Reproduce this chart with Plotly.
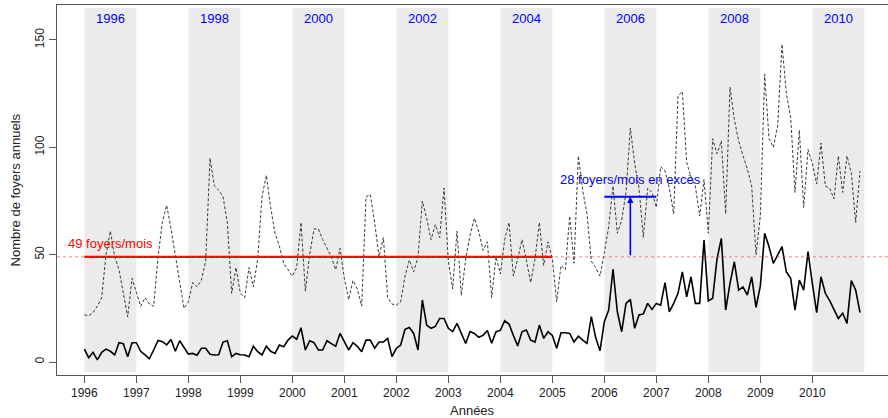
import plotly.graph_objects as go

# ---- data (monthly, Jan 1996 .. Dec 2010) ----
start_year = 1996
dashed_vals = [
    22, 21.5, 23, 26, 30, 50, 61, 49, 43, 32, 21, 39,          # 1996
    32, 26, 30, 27, 26, 49, 65, 73, 62, 50, 38, 25,            # 1997
    28, 37, 35, 38, 47, 95, 82, 80, 77, 65, 32, 44,            # 1998
    32, 30, 44, 35, 48, 77, 87, 72, 60, 54, 46, 43,            # 1999
    40, 44, 65, 33, 50, 62, 62, 57, 53, 49, 43, 53,            # 2000
    39, 29, 38, 34, 26, 77, 78, 65, 49, 58, 30, 27,            # 2001
    26.5, 28, 40, 47.5, 42, 49, 75, 67, 57, 64, 58, 81,        # 2002
    47, 34, 61, 31, 48, 59, 67, 61, 52, 56, 30, 49,            # 2003
    41, 57, 65, 40, 48, 57, 47.5, 37, 48, 65, 45, 56,          # 2004
    48, 28, 45, 43, 68, 46, 96, 80, 69, 47, 44, 40,            # 2005
    51, 63, 82, 60, 66, 79, 109, 92.5, 81, 58, 81, 79,         # 2006
    72, 91, 89, 81, 69, 124, 126, 93, 86, 82, 68, 85,          # 2007
    60, 104, 97, 103, 69, 128, 113, 103, 96, 90, 82, 50,       # 2008
    68, 134, 104, 100, 110, 148, 125, 114, 79, 108, 72, 99,    # 2009
    92.5, 83, 102, 82, 81, 76, 96, 79, 96, 88, 65, 89,         # 2010
]
solid_vals = [
    6, 2, 4.5, 1, 4.5, 6, 5, 3.3, 9, 8.5, 2.5, 9,              # 1996
    9, 5, 3.3, 1.5, 5.6, 10, 9.5, 8, 10.5, 5, 9.9, 7,          # 1997
    3.7, 4, 3.2, 6.4, 6.4, 3.6, 3.3, 3.4, 9.3, 9.9, 2.5, 4,    # 1998
    3.4, 3.3, 2.5, 7.4, 4.8, 3.3, 7.4, 5, 4, 7.9, 7.1, 10.2,   # 1999
    12.1, 10.6, 16, 5.6, 9.9, 9, 5.6, 5.6, 9.9, 8.6, 7.3, 13.3,  # 2000
    9.3, 5.6, 9, 7.3, 4.8, 10.2, 10.2, 6.4, 9.3, 9.3, 11, 2.5,   # 2001
    6.4, 7.9, 15.2, 16.1, 13.3, 5.6, 28.9, 17.2, 15.7, 16.6, 20.3, 20.3,  # 2002
    15.7, 14.2, 18, 13.3, 8.6, 14.2, 13.3, 11.5, 12.4, 14.7, 8.7, 14.1,   # 2003
    14.7, 19.2, 17.7, 12.4, 7.5, 14.1, 14.9, 10.2, 9.3, 17.2, 11, 14.1,   # 2004
    12.4, 6.4, 13.6, 13.6, 13.3, 9.3, 12, 10.2, 8.7, 21.1, 11.4, 5.3,     # 2005
    18.8, 24.2, 43.2, 23.4, 14.1, 27.3, 29.2, 15.7, 21.9, 22.4, 27.3, 24.5,  # 2006
    27.3, 26.5, 37, 23.4, 27.3, 32, 42, 30.4, 39.7, 27.3, 27.3, 56.8,     # 2007
    28.5, 29.7, 48, 57.6, 24.2, 36.6, 46.7, 33.5, 35, 31.2, 39.7, 25.5,   # 2008
    35.5, 60, 53.7, 46, 49.8, 53.7, 42, 39, 24.2, 38.2, 33.5, 51.4,       # 2009
    36.6, 23, 39.7, 32, 28.6, 24.2, 20.3, 22.7, 18, 37.9, 33.5, 23,       # 2010
]
tick_years = list(range(1996, 2011))
band_years = [1996, 1998, 2000, 2002, 2004, 2006, 2008, 2010]
mean_before = 49
excess_level = 77
mean_label = "49 foyers/mois"
excess_label = "28 foyers/mois en excès"

x_months = [start_year + i / 12 for i in range(len(dashed_vals))]

FONT = "Liberation Sans, Arial, sans-serif"

fig = go.Figure()

# dashed series
fig.add_trace(go.Scatter(x=x_months, y=dashed_vals, mode="lines",
                         line=dict(color="#3a3a3a", width=1, dash="3px,2px"),
                         hoverinfo="skip", showlegend=False))
# solid series
fig.add_trace(go.Scatter(x=x_months, y=solid_vals, mode="lines",
                         line=dict(color="black", width=1.6),
                         hoverinfo="skip", showlegend=False))
# thick red mean line 1996-2005
fig.add_trace(go.Scatter(x=[1996, 2005], y=[mean_before, mean_before], mode="lines",
                         line=dict(color="#ff0000", width=2.2),
                         hoverinfo="skip", showlegend=False))
# blue horizontal line 2006-2007
fig.add_trace(go.Scatter(x=[2006, 2007], y=[excess_level, excess_level], mode="lines",
                         line=dict(color="#0000ff", width=2),
                         hoverinfo="skip", showlegend=False))

shapes = []
for y0 in band_years:
    shapes.append(dict(type="rect", xref="x", yref="y", x0=y0, x1=y0 + 1,
                       y0=-4.6, y1=164.9, fillcolor="#ebebeb",
                       line=dict(width=0), layer="below"))
# red dashed reference line across the whole plot
shapes.append(dict(type="line", xref="paper", yref="y", x0=0, x1=1,
                   y0=mean_before, y1=mean_before,
                   line=dict(color="rgba(230,60,60,0.75)", width=0.8, dash="3px,3px")))

annotations = []
for y0 in band_years:
    annotations.append(dict(x=y0 + 0.5, y=160.2, xref="x", yref="y", text=str(y0),
                            showarrow=False, font=dict(color="#0000ff", size=13, family=FONT)))
annotations.append(dict(x=1995.647, y=55.4, xref="x", yref="y", text=mean_label,
                        showarrow=False, xanchor="left", yanchor="middle",
                        font=dict(color="#ff0000", size=13, family=FONT)))
annotations.append(dict(x=2005.109, y=84.8, xref="x", yref="y", text=excess_label,
                        showarrow=False, xanchor="left", yanchor="middle",
                        font=dict(color="#0000ff", size=13, family=FONT)))
# vertical blue arrow
annotations.append(dict(x=2006.5, y=excess_level, ax=2006.5, ay=mean_before,
                        xref="x", yref="y", axref="x", ayref="y", text="",
                        showarrow=True, arrowhead=2, arrowsize=0.8, arrowwidth=1.6,
                        arrowcolor="#0000ff"))
# axis titles
annotations.append(dict(x=0.5, y=-0.095, xref="paper", yref="paper", text="Années",
                        showarrow=False, yanchor="middle",
                        font=dict(size=13, color="#222", family=FONT)))
annotations.append(dict(x=-0.05, y=0.5, xref="paper", yref="paper",
                        text="Nombre de foyers annuels", textangle=-90,
                        showarrow=False, xanchor="center",
                        font=dict(size=13, color="#222", family=FONT)))

fig.update_layout(
    width=888, height=418,
    margin=dict(l=57, r=0, t=5, b=43),
    paper_bgcolor="white", plot_bgcolor="white",
    shapes=shapes, annotations=annotations,
    font=dict(family=FONT, size=12, color="#222"),
    xaxis=dict(range=[1995.474, 2011.455], tickvals=tick_years,
               ticktext=[str(y) for y in tick_years],
               showgrid=False, zeroline=False, showline=True, mirror=True,
               linecolor="#555", linewidth=1, ticks="outside", ticklen=7,
               tickcolor="#555", tickfont=dict(size=12, family=FONT, color="#222")),
    yaxis=dict(range=[-6.05, 166.3], tickvals=[0, 50, 100, 150],
               showgrid=False, zeroline=False, showline=True,
               linecolor="#555", linewidth=1, ticks="outside", ticklen=7,
               tickcolor="#555", tickangle=-90,
               tickfont=dict(size=12, family=FONT, color="#222")),
)

fig.write_html("out.html")
